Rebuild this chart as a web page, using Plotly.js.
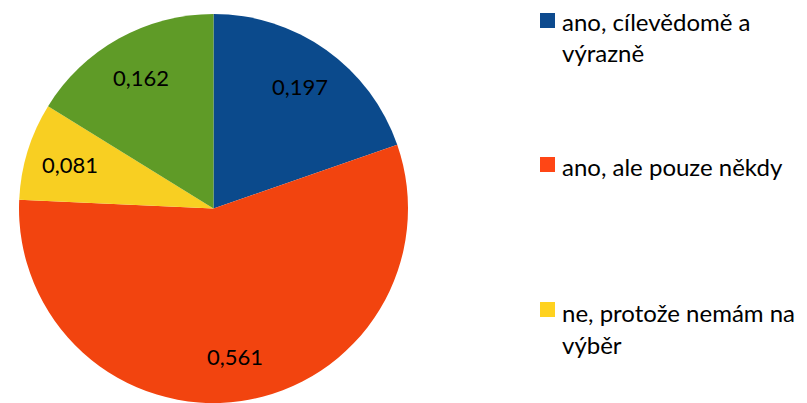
<!DOCTYPE html>
<html>
<head>
<meta charset="utf-8">
<script src="https://cdn.plot.ly/plotly-3.0.1.min.js"></script>
<style>html,body{margin:0;padding:0;background:#fff;}#chart{width:807px;height:403px;}</style>
</head>
<body>
<div id="chart"></div>
<script>
const categories = ["ano, cílevědomě a výrazně", "ano, ale pouze někdy", "ne, protože nemám na výběr", "ne"];
const values = [0.197, 0.561, 0.081, 0.162];
const colors = ["#0b4a8c", "#f2440f", "#f8cf22", "#5f9b27"];
const legendColors = ["#0d4a8e", "#ff4615", "#ffd21f"];
const legendLines = [["ano, cílevědomě a", "výrazně"], ["ano, ale pouze někdy"], ["ne, protože nemám na", "výběr"]];

const W = 807, H = 403;
const font = "Lato, 'Open Sans', sans-serif";
const domX = [12 / W, 415 / W], domY = [0, 1 - 14 / H];

const trace = {
  type: "pie",
  labels: categories,
  values: values,
  sort: false,
  direction: "clockwise",
  rotation: 0,
  marker: {colors: colors, line: {width: 0}},
  textinfo: "none",
  hoverinfo: "label+value",
  showlegend: false,
  domain: {x: domX, y: domY}
};

// value labels placed at each slice's mid-angle (derived from the data)
const cx = (domX[0] + domX[1]) / 2 * W;
const cy = (1 - (domY[0] + domY[1]) / 2) * H;
const R = Math.min((domX[1] - domX[0]) * W, (domY[1] - domY[0]) * H) / 2;
const total = values.reduce((a, b) => a + b, 0);
const annotations = [];
let cum = 0;
values.forEach((v) => {
  const mid = (cum + v / 2) / total * 2 * Math.PI;
  cum += v;
  const r = 0.77 * R;
  const px = cx + r * Math.sin(mid), py = cy - r * Math.cos(mid);
  annotations.push({xref: "paper", yref: "paper", x: px / W, y: 1 - py / H,
    xanchor: "center", yanchor: "middle", showarrow: false,
    text: v.toFixed(3).replace(".", ","),
    font: {family: font, size: 22, color: "#000"}});
});

// manual legend (Excel-like spacing)
const legendSquareTops = [13, 157, 302];
const lineCenters = [[21, 52], [166], [312, 344]];
const shapes = [];
legendSquareTops.forEach((t, i) => {
  shapes.push({type: "rect", xref: "paper", yref: "paper",
    x0: 540 / W, x1: 555 / W, y0: 1 - (t + 15) / H, y1: 1 - t / H,
    fillcolor: legendColors[i], line: {width: 0}});
  legendLines[i].forEach((txt, j) => {
    annotations.push({xref: "paper", yref: "paper", x: 560 / W, y: 1 - lineCenters[i][j] / H,
      xanchor: "left", yanchor: "middle", showarrow: false, text: txt,
      font: {family: font, size: 24, color: "#000"}});
  });
});

const layout = {
  width: W, height: H,
  margin: {l: 0, r: 0, t: 0, b: 0},
  paper_bgcolor: "#fff",
  separators: ", ",
  showlegend: false,
  shapes: shapes,
  annotations: annotations
};

Plotly.newPlot("chart", [trace], layout, {displayModeBar: false, staticPlot: true});
</script>
</body>
</html>
